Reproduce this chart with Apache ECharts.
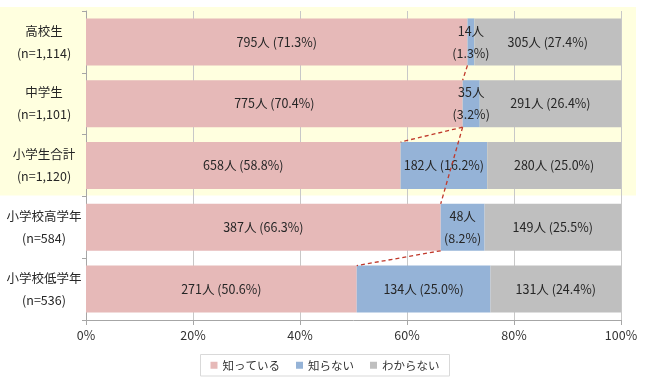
<!DOCTYPE html>
<html><head><meta charset="utf-8">
<script src="https://cdn.jsdelivr.net/npm/echarts@6/dist/echarts.min.js"></script>
<style>html,body{margin:0;padding:0;background:#fff}#c{width:650px;height:383px}</style>
</head><body><div id="c"></div>
<script>
const categories = ['高校生\n(n=1,114)', '中学生\n(n=1,101)', '小学生合計\n(n=1,120)', '小学校高学年\n(n=584)', '小学校低学年\n(n=536)'];
const seriesNames = ['知っている', '知らない', 'わからない'];
const knowPct = [71.3, 70.4, 58.8, 66.3, 50.6];
const knowN = [795, 775, 658, 387, 271];
const notKnowPct = [1.3, 3.2, 16.2, 8.2, 25.0];
const notKnowN = [14, 35, 182, 48, 134];
const unsurePct = [27.4, 26.4, 25.0, 25.5, 24.4];
const unsureN = [305, 291, 280, 149, 131];
const xTicks = [0, 20, 40, 60, 80, 100];
// connectors: [fromRow, toRow] of the 知っている boundary
const connectors = [[0, 1], [1, 2], [1, 3], [3, 4]];
const twoLineRows = [0, 1, 3]; // narrow 知らない segments shown on two lines

const colors = ['#E6B9B8', '#95B3D7', '#BFBFBF'];
const font = '"Noto Sans CJK JP", "Noto Sans", sans-serif';
const BAR_GAP = 0.24;

function mk(pcts, ns, idx) {
  return pcts.map((p, i) => ({
    value: p,
    label: {
      formatter: (idx === 1 && twoLineRows.includes(i)) ? ns[i] + '人\n(' + p.toFixed(1) + '%)' : ns[i] + '人 (' + p.toFixed(1) + '%)'
    }
  }));
}

const chart = echarts.init(document.getElementById('c'));
const lblStyle = { show: true, position: 'inside', color: '#262626', fontSize: 12.5, fontFamily: font, lineHeight: 22 };

chart.setOption({
  animation: false,
  textStyle: { fontFamily: font },
  grid: { left: 86, right: 29, top: 11, bottom: 63 },
  legend: {
    bottom: 7, left: 'center', itemWidth: 7, itemHeight: 7, itemGap: 16,
    icon: 'rect', borderColor: '#d9d9d9', borderWidth: 1, padding: [5, 10, 5, 10],
    textStyle: { fontSize: 11.5, color: '#333', fontFamily: font },
    data: seriesNames
  },
  xAxis: {
    type: 'value', min: 0, max: 100, interval: 20,
    axisLabel: { formatter: v => xTicks.includes(v) ? v + '%' : '', fontSize: 12.5, color: '#333', margin: 9 },
    axisLine: { show: true, lineStyle: { color: '#a6a6a6' } },
    axisTick: { show: true, length: 5, lineStyle: { color: '#a6a6a6' } },
    splitLine: { lineStyle: { color: '#c8c8c8' } }
  },
  yAxis: {
    type: 'category', inverse: true, data: categories,
    axisLine: { show: true, lineStyle: { color: '#a6a6a6' } },
    axisTick: { show: true, length: 4, lineStyle: { color: '#a6a6a6' } },
    axisLabel: { fontSize: 12.5, color: '#262626', lineHeight: 22, align: 'center', margin: 42 }
  },
  series: [
    { name: seriesNames[0], type: 'bar', stack: 's', barCategoryGap: (BAR_GAP * 100) + '%', itemStyle: { color: colors[0] }, label: lblStyle, data: mk(knowPct, knowN, 0), z: 3 },
    { name: seriesNames[1], type: 'bar', stack: 's', itemStyle: { color: colors[1] }, label: lblStyle, data: mk(notKnowPct, notKnowN, 1), z: 3 },
    { name: seriesNames[2], type: 'bar', stack: 's', itemStyle: { color: colors[2] }, label: lblStyle, data: mk(unsurePct, unsureN, 2), z: 3 },
    {
      type: 'custom', z: 10, silent: true,
      data: connectors.map(c => [knowPct[c[0]], c[0], knowPct[c[1]], c[1]]),
      renderItem: function (params, api) {
        const p1 = api.coord([api.value(0), api.value(1)]);
        const p2 = api.coord([api.value(2), api.value(3)]);
        const half = api.size([0, 1])[1] * (1 - BAR_GAP) / 2;
        return {
          type: 'line',
          shape: { x1: p1[0], y1: p1[1] + half, x2: p2[0], y2: p2[1] - half },
          style: { stroke: '#C0392B', lineWidth: 1.3, lineDash: [4, 3] }
        };
      }
    }
  ]
});

// light yellow highlight behind the first three groups, positioned from the axis scale
const bandH = chart.convertToPixel({ yAxisIndex: 0 }, 1) - chart.convertToPixel({ yAxisIndex: 0 }, 0);
const yTop = chart.convertToPixel({ yAxisIndex: 0 }, 0) - bandH / 2 - 4;
const yBot = chart.convertToPixel({ yAxisIndex: 0 }, 2) + bandH / 2 - 1;
chart.setOption({
  graphic: [{
    type: 'rect', z: -10, silent: true,
    shape: { x: 0, y: yTop, width: 636, height: yBot - yTop },
    style: { fill: '#FFFFDF' }
  }]
});
</script></body></html>
